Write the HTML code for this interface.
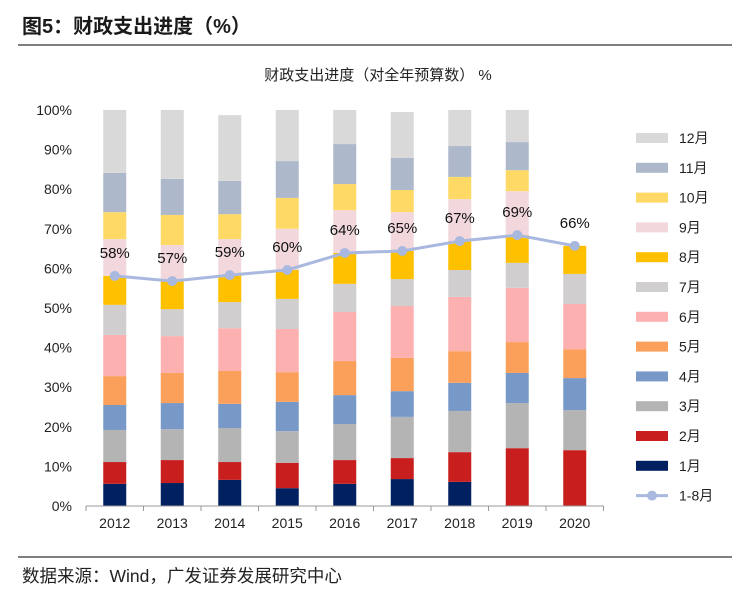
<!DOCTYPE html>
<html><head><meta charset="utf-8"><style>
body{margin:0;background:#fff;}
svg{display:block;font-family:"Liberation Sans","Noto Sans CJK SC",sans-serif;}
</style></head><body>
<svg id="chart" width="748" height="596">
<text x="22" y="33" font-size="20" font-weight="bold" fill="#1a1a1a">图5：财政支出进度（%）</text>
<line x1="18" y1="45" x2="732" y2="45" stroke="#333" stroke-width="1.2"/>
<text x="378" y="80" font-size="15" text-anchor="middle" fill="#222">财政支出进度（对全年预算数） %</text>
<g id="plot"></g>
<g id="legend"></g>
<line x1="18" y1="557" x2="732" y2="557" stroke="#333" stroke-width="1.2"/>
<text x="22" y="582" font-size="17.5" fill="#222">数据来源：Wind，广发证券发展研究中心</text>
</svg>
<script>
const years=["2012","2013","2014","2015","2016","2017","2018","2019","2020"];
const months=["1月","2月","3月","4月","5月","6月","7月","8月","9月","10月","11月","12月"];
const colors=["#002060","#C81E1E","#B4B4B4","#7899C8","#FBA05A","#FCB0B0","#D0CECE","#FFC000","#F2D8DC","#FFD966","#ADB9CA","#D9D9D9"];
// cumulative progress (%) per year, by month
const cum2012=[5.6,11.1,19.2,25.5,32.8,43.2,50.8,58.1,67.4,74.2,84.1,100];
const cum2013=[5.8,11.6,19.4,26.0,33.6,42.9,49.7,56.8,65.9,73.5,82.6,100];
const cum2014=[6.6,11.1,19.7,25.8,34.1,44.9,51.5,58.3,67.4,73.7,82.1,98.7];
const cum2015=[4.5,10.9,18.9,26.3,33.8,44.7,52.3,59.6,70.0,77.8,87.1,100];
const cum2016=[5.6,11.6,20.7,28.0,36.6,49.0,56.1,63.9,74.7,81.3,91.4,100];
const cum2017=[6.8,12.1,22.5,29.0,37.4,50.5,57.3,64.4,74.2,79.8,87.9,99.5];
const cum2018=[6.1,13.6,24.0,31.1,39.1,52.8,59.6,66.9,77.5,83.1,90.9,100];
const cum2019=[0,14.6,26.0,33.6,41.4,55.1,61.4,68.4,79.5,84.8,91.9,100];
const cum2020=[0,14.1,24.2,32.3,39.6,51.0,58.6,65.7];
const cumData=[cum2012,cum2013,cum2014,cum2015,cum2016,cum2017,cum2018,cum2019,cum2020];
const line18=[58.1,56.8,58.3,59.6,63.9,64.4,66.9,68.4,65.7];
const lineLabels=["58%","57%","59%","60%","64%","65%","67%","69%","66%"];
const yTicks=[0,10,20,30,40,50,60,70,80,90,100];

const NS="http://www.w3.org/2000/svg";
const plot=document.getElementById('plot'),leg=document.getElementById('legend');
const x0=86,step=57.5,bw=23;
const y=v=>506-v*3.96;
const xc=i=>x0+step*(i+0.5);
function mk(tag,attrs,parent){const e=document.createElementNS(NS,tag);for(const k in attrs)e.setAttribute(k,attrs[k]);parent.appendChild(e);return e;}

yTicks.forEach(t=>{
  const tx=mk('text',{x:72,y:y(t)+5,'font-size':14,'text-anchor':'end',fill:'#222'},plot);
  tx.textContent=t+'%';
  
  
});
cumData.forEach((arr,i)=>{
  let prev=0;
  arr.forEach((v,m)=>{
    if(v>prev){
      const r=mk('rect',{x:xc(i)-bw/2,y:y(v),width:bw,height:y(prev)-y(v),fill:colors[m]},plot);
      
      
    }
    prev=v;
  });
  const tl=mk('text',{x:xc(i),y:528,'font-size':14,'text-anchor':'middle',fill:'#222'},plot);
  tl.textContent=years[i];
  
  
});
const ax=mk('line',{x1:x0,y1:506,x2:x0+step*years.length,y2:506,stroke:'#999'},plot);


for(let i=0;i<=years.length;i++){
  const tk=mk('line',{x1:x0+step*i,y1:506,x2:x0+step*i,y2:511,stroke:'#999'},plot);
  
  
}
const pts=line18.map((v,i)=>xc(i)+','+y(v)).join(' ');
const pl=mk('polyline',{points:pts,fill:'none',stroke:'#A9B8DE','stroke-width':3},plot);


line18.forEach((v,i)=>{
  const c=mk('circle',{cx:xc(i),cy:y(v),r:5,fill:'#A9B8DE'},plot);
  
  
  const t=mk('text',{x:xc(i),y:y(v)-18,'font-size':15,'text-anchor':'middle',fill:'#111'},plot);
  t.textContent=lineLabels[i];
  
  
});
for(let k=0;k<12;k++){
  const m=11-k, ly=138+k*29.8;
  const s=mk('rect',{x:636,y:ly-5,width:32,height:10,fill:colors[m]},leg);
  
  
  const t=mk('text',{x:679,y:ly+5,'font-size':14,fill:'#222'},leg);
  t.textContent=months[m];
  
  
}
const ly=138+12*29.8;
const ll=mk('line',{x1:636,y1:ly,x2:668,y2:ly,stroke:'#A9B8DE','stroke-width':3},leg);


const lc=mk('circle',{cx:652,cy:ly,r:5,fill:'#A9B8DE'},leg);


const lt=mk('text',{x:679,y:ly+5,'font-size':14,fill:'#222'},leg);
lt.textContent='1-8月';


</script>
</body></html>
